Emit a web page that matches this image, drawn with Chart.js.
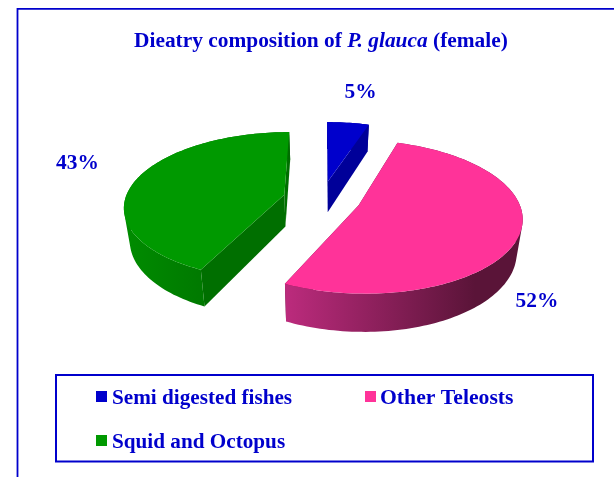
<!DOCTYPE html>
<html><head><meta charset="utf-8">
<style>html,body{margin:0;padding:0;background:#fff}canvas{display:block}</style>
<script src="https://cdn.jsdelivr.net/npm/chart.js@4"></script></head>
<body><div style="width:614px;height:477px;position:relative"><canvas id="c" width="614" height="477"></canvas></div>
<script>
const categories = ["Semi digested fishes", "Other Teleosts", "Squid and Octopus"];
const values = [5, 52, 43];
const percentLabels = ["5%", "52%", "43%"];
const colors = ["#0000CC", "#FF3399", "#009900"];

const INK = "#0000CC", SERIF = '"Liberation Serif","Times New Roman",serif';
const VIEW = {cx:322, cy:198.5, rx:159, ry:73, k:0.15, depth:32, shrink:0.97};
const WALLS = [
  {cut:"#000099", from:"#000099", to:"#000099"},
  {cut:"#5c1539", from:"#BC2B7D", to:"#5A1438"},
  {cut:"#006F00", from:"#008C00", to:"#006C00"}
];
const project = (X, V, drop) => {
  const s = 1 / (1 + VIEW.k * V);
  const x = VIEW.rx * X * s;
  return [VIEW.cx + (drop ? x * VIEW.shrink : x), VIEW.cy - VIEW.ry * V * s + (drop ? VIEW.depth * s : 0)];
};
const signedArea = pts => pts.reduce((sum, q, i) => {
  const r = pts[(i + 1) % pts.length];
  return sum + q[0] * r[1] - r[0] * q[1];
}, 0);

function drawSlice(ctx, arc, wall) {
  const p = arc.getProps(["startAngle","endAngle","outerRadius"], true);
  const a0 = p.startAngle + Math.PI/2, a1 = p.endAngle + Math.PI/2;
  const e = arc.options.offset / p.outerRadius, mid = (a0 + a1) / 2;
  const ox = e * Math.sin(mid), ov = e * Math.cos(mid);
  const rim = [];
  const n = Math.max(8, Math.round((a1 - a0) * 40));
  for (let i = 0; i <= n; i++) {
    const t = a0 + (a1 - a0) * i / n;
    rim.push([ox + Math.sin(t), ov + Math.cos(t)]);
  }
  const trace = pts => {
    pts.forEach((q, i) => i ? ctx.lineTo(q[0], q[1]) : ctx.moveTo(q[0], q[1]));
    ctx.closePath();
  };
  const poly = (pts, fill) => { ctx.beginPath(); trace(pts); ctx.fillStyle = fill; ctx.fill(); };
  const apexT = project(ox, ov, false), apexB = project(ox, ov, true);
  const rimT = rim.map(q => project(q[0], q[1], false));
  const rimB = rim.map(q => project(q[0], q[1], true));
  // cut walls
  poly([apexT, rimT[0], rimB[0], apexB], wall.cut);
  poly([apexT, rimT[n], rimB[n], apexB], wall.cut);
  // outer wall: same-winding quads in one path, so the fill is their union
  const xs = rimT.map(q => q[0]);
  const g = ctx.createLinearGradient(Math.min(...xs), 0, Math.max(...xs), 0);
  g.addColorStop(0, wall.from);
  g.addColorStop(0.8, wall.to);
  g.addColorStop(1, wall.to);
  ctx.beginPath();
  for (let i = 0; i < n; i++) {
    const quad = [rimT[i], rimT[i+1], rimB[i+1], rimB[i]];
    trace(signedArea(quad) < 0 ? quad.reverse() : quad);
  }
  ctx.fillStyle = g; ctx.fill();
  // top face
  poly([apexT].concat(rimT), arc.options.backgroundColor);
}

const pie3d = {
  id: "pie3d",
  beforeDatasetDraw(chart) {
    const ctx = chart.ctx, arcs = chart.getDatasetMeta(0).data;
    ctx.save();
    [2, 0, 1].forEach(i => drawSlice(ctx, arcs[i], WALLS[i]));
    ctx.restore();
    return false;
  },
  afterDraw(chart) {
    const ctx = chart.ctx;
    ctx.save();
    ctx.strokeStyle = INK; ctx.fillStyle = INK; ctx.textBaseline = "alphabetic";
    // outer frame
    ctx.lineWidth = 1.8;
    ctx.beginPath(); ctx.moveTo(17.5, 477); ctx.lineTo(17.5, 8.8); ctx.lineTo(614, 8.8); ctx.stroke();
    // title
    let x = 134;
    [["bold", "Dieatry composition of "], ["italic bold", "P. glauca"], ["bold", " (female)"]].forEach(s => {
      ctx.font = s[0] + " 21.4px " + SERIF;
      ctx.fillText(s[1], x, 47);
      x += ctx.measureText(s[1]).width;
    });
    // percent labels
    ctx.font = "bold 21.4px " + SERIF;
    ctx.textAlign = "center";
    ctx.fillText(percentLabels[0], 360.5, 98);
    ctx.fillText(percentLabels[1], 537, 307);
    ctx.fillText(percentLabels[2], 77.5, 169);
    ctx.textAlign = "left";
    // legend
    ctx.lineWidth = 2;
    ctx.strokeRect(56, 375, 537, 86.5);
    const spots = [[96, 391, 112, 404, 21.2], [365, 391, 380, 404, 21.7], [96, 435, 112, 448, 21.2]];
    categories.forEach((name, i) => {
      const sp = spots[i];
      ctx.fillStyle = colors[i];
      ctx.fillRect(sp[0], sp[1], 11, 11);
      ctx.fillStyle = INK;
      ctx.font = "bold " + sp[4] + "px " + SERIF;
      ctx.fillText(name, sp[2], sp[3]);
    });
    ctx.restore();
  }
};

new Chart(document.getElementById("c"), {
  type: "pie",
  data: { labels: categories, datasets: [{ data: values, backgroundColor: colors, borderWidth: 0, offset: 52 }] },
  options: {
    responsive: false, animation: false,
    plugins: { legend: {display:false}, title: {display:false}, tooltip: {enabled:false} }
  },
  plugins: [pie3d]
});
</script></body></html>
